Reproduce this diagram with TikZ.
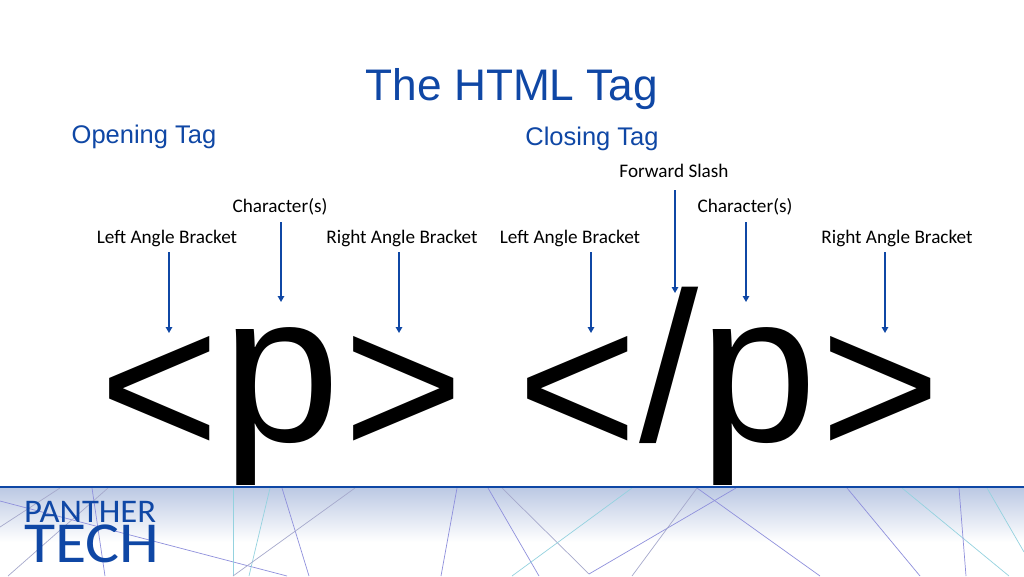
\documentclass[tikz,border=0pt]{standalone}
\usepackage{fontspec}
\usepackage{graphicx}
\setmainfont{Liberation Sans}
\newfontfamily\calib{Carlito}
\usetikzlibrary{arrows.meta}
\definecolor{ptblue}{HTML}{0F47A5}
\definecolor{lpurple}{HTML}{8F90DC}
\definecolor{lgray}{HTML}{A6A9CC}
\definecolor{lcyan}{HTML}{94D2DF}
\definecolor{fband}{HTML}{BCC9E4}
\tikzset{
  x=1pt,y=-1pt,
  lab/.style={font=\calib\fontsize{19.2}{22}\selectfont,text=black,inner sep=0pt,anchor=base},
  heading/.style={font=\fontsize{25.5}{28}\selectfont,text=ptblue,inner sep=0pt,anchor=base},
  bigtag/.style={font=\fontsize{206}{230}\selectfont,text=black,inner sep=0pt,anchor=base},
  bigletter/.style={bigtag,font=\fontsize{212}{230}\selectfont},
  pointer/.style={draw=ptblue,line width=1.3pt,-{Triangle[length=6pt,width=6.5pt]}},
  logotext/.style={text=ptblue,inner sep=0pt,anchor=base west,text depth=0pt},
  fp/.style={draw=lpurple,line width=0.7pt},
  fg/.style={draw=lgray,line width=0.7pt},
  fc/.style={draw=lcyan,line width=0.7pt},
}
\begin{document}
\begin{tikzpicture}
\useasboundingbox (0,0) rectangle (1024,576);
\fill[white] (0,0) rectangle (1024,576);
% footer
\shade[top color=fband,bottom color=white,shading angle=0] (0,488) rectangle (1024,542);
\draw[fg] (60,488) -- (0,527);
\draw[fp] (0,501) -- (287,576);
\draw[fp] (92,488) -- (105,576);
\draw[fg] (108,488) -- (8,576);
\draw[fc] (233,488) -- (233,576);
\draw[fc] (270,488) -- (249,576);
\draw[fp] (282,488) -- (309,576);
\draw[fg] (355,488) -- (233,576);
\draw[fp] (457,488) -- (441,576);
\draw[fp] (488,488) -- (539,576);
\draw[fg] (502,488) -- (589,574);
\draw[fp] (589,574) -- (736,488);
\draw[fg] (697,488) -- (632,576);
\draw[fp] (697,488) -- (820,576);
\draw[fc] (632,488) -- (512,576);
\draw[fp] (847,488) -- (920,576);
\draw[fc] (902,488) -- (1009,576);
\draw[fp] (959,488) -- (966,576);
\draw[fc] (987,488) -- (1024,552);
\draw[ptblue,line width=2pt] (0,487) -- (1024,487);
% logo
\node[logotext,text height=21pt,font=\calib\fontsize{33}{33}\selectfont] (panther) at (24,522) {\scalebox{1.05}[1]{PANTHER}};
\node[logotext,text height=36pt,font=\calib\fontsize{58}{58}\selectfont] (tech) at (24,562) {\scalebox{1.1}[1]{TECH}};
% titles
\node[font=\fontsize{44.2}{50}\selectfont,text=ptblue,inner sep=0pt,anchor=base] (title) at (512,100) {The HTML Tag};
\node[heading] (open) at (144,143) {Opening Tag};
\node[heading] (close) at (592,145) {Closing Tag};
% big tags
\node[bigtag] (lt1) at (159.3,456.5) {<};
\node[bigletter] (p1) at (281,441) {p};
\node[bigtag] (gt1) at (403.5,456.5) {>};
\node[bigtag] (lt2) at (577.3,456.5) {<};
\node[bigtag,font=\fontsize{213}{230}\selectfont] (slash) at (669,441) {/};
\node[bigletter] (p2) at (758.5,441) {p};
\node[bigtag] (gt2) at (880.5,456.5) {>};
% labels
\node[lab] (l1) at (167,243.5) {Left Angle Bracket};
\node[lab] (l2) at (280,212.5) {Character(s)};
\node[lab] (l3) at (402,243.5) {Right Angle Bracket};
\node[lab] (l4) at (570,243.5) {Left Angle Bracket};
\node[lab] (l5) at (674,177.5) {Forward Slash};
\node[lab] (l6) at (745,212.5) {Character(s)};
\node[lab] (l7) at (897,243.5) {Right Angle Bracket};
% arrow ends
\coordinate (s1) at (169,252); \coordinate (e1) at (169,333);
\coordinate (s2) at (281,222); \coordinate (e2) at (281,302);
\coordinate (s3) at (399,252); \coordinate (e3) at (399,333);
\coordinate (s4) at (591,252); \coordinate (e4) at (591,333);
\coordinate (s5) at (675,190); \coordinate (e5) at (675,293);
\coordinate (s6) at (746,222); \coordinate (e6) at (746,302);
\coordinate (s7) at (885,252); \coordinate (e7) at (885,333);
\foreach \i in {1,...,7} \draw[pointer] (s\i) -- (e\i);
\end{tikzpicture}
\end{document}
